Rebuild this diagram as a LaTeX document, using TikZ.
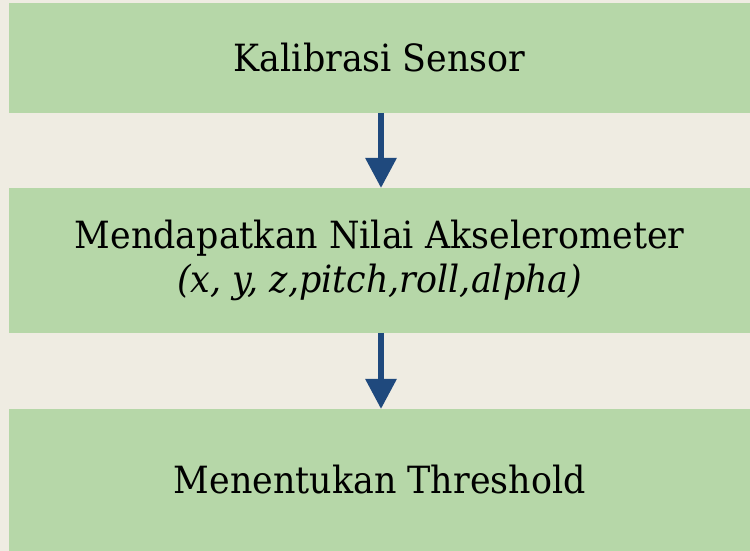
\documentclass[tikz,border=0pt]{standalone}
\usepackage{fontspec}
\setmainfont[FakeStretch=0.93]{DejaVu Serif}
\usetikzlibrary{arrows.meta}
\definecolor{bgc}{HTML}{EFECE2}
\definecolor{boxc}{HTML}{B6D7A8}
\definecolor{arrc}{HTML}{1F497D}
\tikzset{
  stepbox/.style={fill=boxc, draw=none, inner sep=0pt, minimum width=741pt, anchor=south west, align=center, font=\fontsize{37.5}{44}\selectfont},
  flow/.style={draw=arrc, line width=6pt, -{Triangle[width=30pt,length=30pt]}}
}
\begin{document}
\begin{tikzpicture}[x=1pt,y=1pt]
\fill[bgc] (0,0) rectangle (750,551);
\useasboundingbox (0,0) rectangle (750,551);
\node[stepbox, minimum height=110pt] (a) at (9,438) {Kalibrasi Sensor};
\node[stepbox, minimum height=145pt] (b) at (9,218) {Mendapatkan Nilai Akselerometer\\\textit{(x, y, z,pitch,roll,alpha)}};
\node[stepbox, minimum height=142pt] (c) at (9,0) {Menentukan Threshold};
\draw[flow] (381,438) -- (381,363);
\draw[flow] (381,218) -- (381,142);
\end{tikzpicture}
\end{document}
